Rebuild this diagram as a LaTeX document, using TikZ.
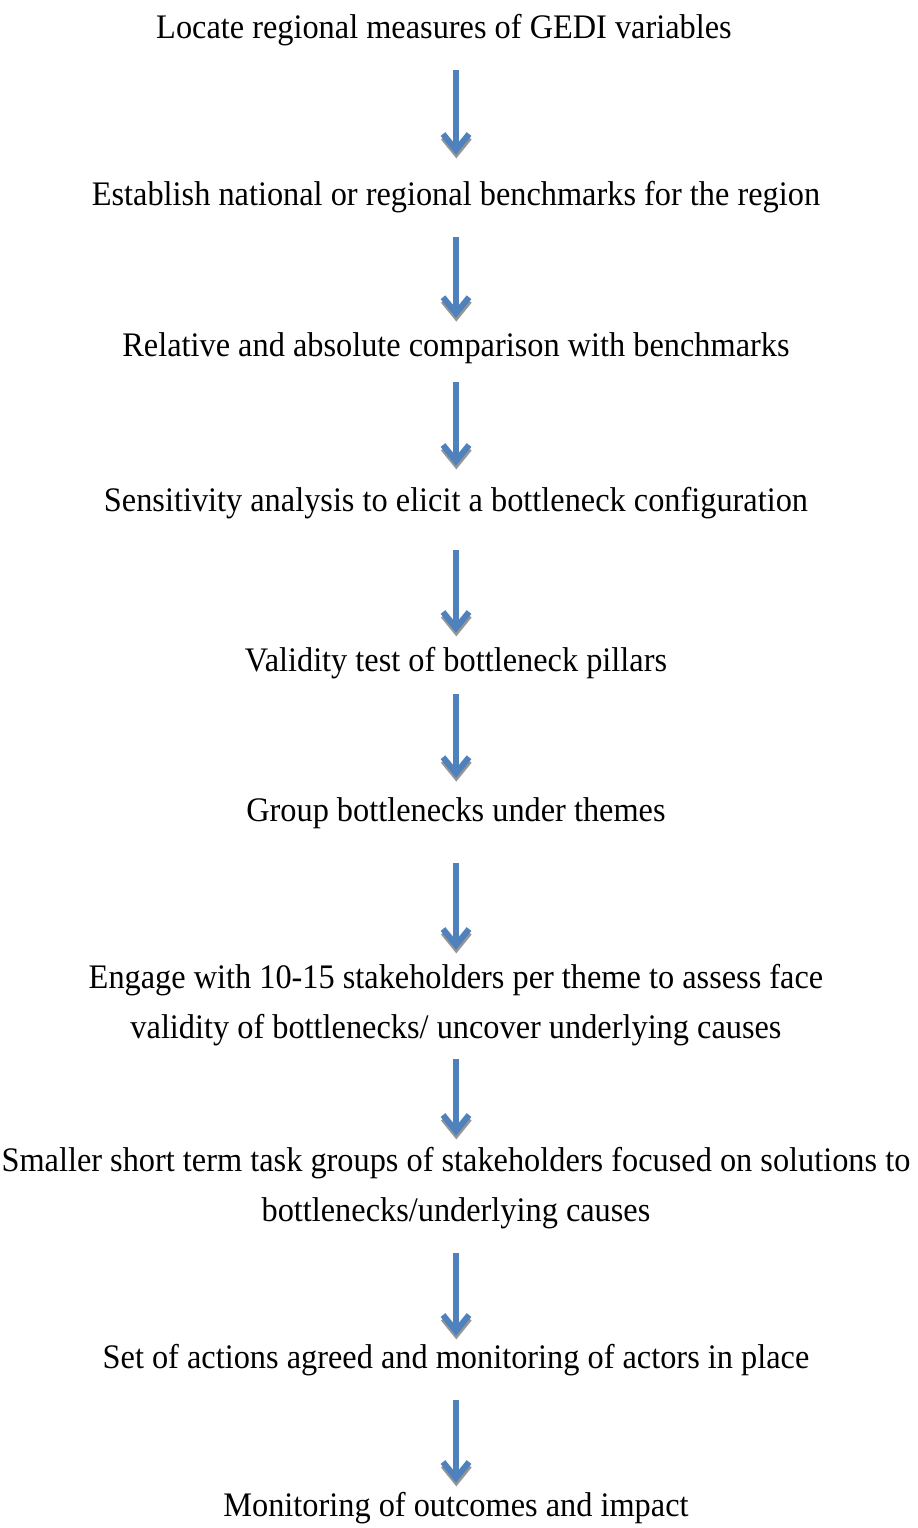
\documentclass[tikz,border=0pt]{standalone}
\usepackage{fontspec}
\setmainfont{Liberation Serif}[FakeStretch=0.94]
\usetikzlibrary{arrows.meta}
\definecolor{arrowblue}{RGB}{79,129,189}
\definecolor{arrowshade}{RGB}{150,150,150}

\tikzset{
  stage/.style={font=\fontsize{17.2}{25}\selectfont,inner sep=0pt,align=center},
  flow/.style={line width=3pt,draw=arrowblue,-{Straight Barb[length=8pt,width=13pt]},
    shorten <=12pt,shorten >=7pt},
  flowshade/.style={flow,draw=arrowshade,transform canvas={shift={(0.15pt,-1.8pt)}}}
}

\begin{document}
\begin{tikzpicture}[x=0.5pt,y=-0.5pt,node distance=77.5pt]

\useasboundingbox (0,0) rectangle (917,1528);

\node[stage](t1) at (444,30){Locate regional measures of GEDI variables};
\node[stage](t2)[below of=t1,xshift=6pt,node distance=83.5pt]{Establish national or regional benchmarks for the region};
\node[stage](t3)[below of=t2,node distance=75.5pt]{Relative and absolute comparison with benchmarks};
\node[stage](t4)[below of=t3]{Sensitivity analysis to elicit a bottleneck configuration};
\node[stage](t5)[below of=t4,node distance=80pt]{Validity test of bottleneck pillars};
\node[stage](t6)[below of=t5,node distance=75pt]{Group bottlenecks under themes};
\node[stage](t7)[below of=t6,node distance=96pt]{Engage with 10-15 stakeholders per theme to assess face\\validity of bottlenecks/ uncover underlying causes};
\node[stage](t8)[below of=t7,node distance=91.5pt]{Smaller short term task groups of stakeholders focused on solutions to\\bottlenecks/underlying causes};
\node[stage](t9)[below of=t8,node distance=86pt]{Set of actions agreed and monitoring of actors in place};
\node[stage](t10)[below of=t9,node distance=74pt]{Monitoring of outcomes and impact};

\coordinate(t1s) at (t1.south -| t2.north);

% grey shadow first, blue arrow on top
\draw[flowshade,shorten >=13pt](t1s)--(t2);
\draw[flow,shorten >=13pt](t1s)--(t2);
\draw[flowshade](t2)--(t3);
\draw[flow](t2)--(t3);
\draw[flowshade,shorten <=9pt,shorten >=10.5pt](t3)--(t4);
\draw[flow,shorten <=9pt,shorten >=10.5pt](t3)--(t4);
\draw[flowshade,shorten <=15.5pt](t4)--(t5);
\draw[flow,shorten <=15.5pt](t4)--(t5);
\draw[flowshade,shorten <=7.5pt,shorten >=9.5pt](t5)--(t6);
\draw[flow,shorten <=7.5pt,shorten >=9.5pt](t5)--(t6);
\draw[flowshade,shorten <=17pt](t6)--(t7);
\draw[flow,shorten <=17pt](t6)--(t7);
\draw[flowshade,shorten <=6.5pt,shorten >=5.5pt](t7)--(t8);
\draw[flow,shorten <=6.5pt,shorten >=5.5pt](t7)--(t8);
\draw[flowshade,shorten >=4pt](t8)--(t9);
\draw[flow,shorten >=4pt](t8)--(t9);
\draw[flowshade,shorten >=4.5pt](t9)--(t10);
\draw[flow,shorten >=4.5pt](t9)--(t10);

\end{tikzpicture}
\end{document}
